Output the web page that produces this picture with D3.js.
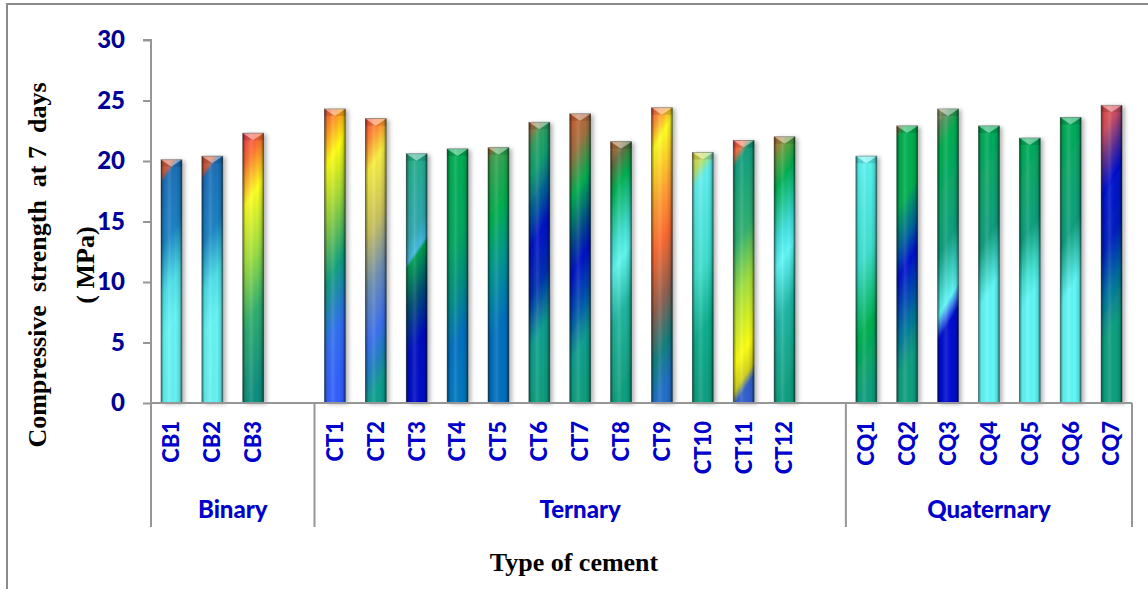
<!DOCTYPE html>
<html>
<head>
<meta charset="utf-8">
<script src="https://cdn.jsdelivr.net/npm/d3@7"></script>
<style>
  html, body { margin: 0; padding: 0; background: #fff; }
  svg { display: block; }
</style>
</head>
<body>
<svg id="chart" width="1148" height="589"></svg>
<script>
// ---------------- DATA ----------------
const groupNames = ["Binary", "Ternary", "Quaternary"];
const groupSizes = [3, 12, 7];
const categories = ["CB1", "CB2", "CB3",
  "CT1", "CT2", "CT3", "CT4", "CT5", "CT6", "CT7", "CT8", "CT9", "CT10", "CT11", "CT12",
  "CQ1", "CQ2", "CQ3", "CQ4", "CQ5", "CQ6", "CQ7"];
const strength7d = [20.1, 20.4, 22.3,
  24.3, 23.5, 20.6, 21.0, 21.1, 23.2, 23.9, 21.6, 24.4, 20.7, 21.7, 22.0,
  20.4, 22.9, 24.3, 22.9, 21.9, 23.6, 24.6];
const yTicks = [0, 5, 10, 15, 20, 25, 30];
const yTitleLine1 = "Compressive  strength  at 7  days";
const yTitleLine2 = "( MPa)";
const xTitle = "Type of cement";

// ---------------- STYLE (per-bar gradient fills, top -> bottom) ----------------
const barGradients = [
  [[0, "#e8643a"], [0.07, "#c85a40"], [0.1, "#1c6fb8"], [0.35, "#1a82c4"], [0.55, "#4de0e8"], [0.72, "#66f6f6"], [1, "#66f2f2"]],
  [[0, "#e8643a"], [0.07, "#c85a40"], [0.1, "#1c6fb8"], [0.35, "#1a82c4"], [0.55, "#4de0e8"], [0.72, "#66f6f6"], [1, "#66f2f2"]],
  [[0, "#f0405a"], [0.12, "#ff7030"], [0.28, "#ffff20"], [0.5, "#a0e040"], [0.72, "#30b070"], [1, "#109080"]],
  [[0, "#ff5040"], [0.1, "#ffa020"], [0.2, "#ffff10"], [0.4, "#90d040"], [0.6, "#10a080"], [0.8, "#3070f0"], [1, "#3060ff"]],
  [[0, "#ff5040"], [0.1, "#ff9030"], [0.2, "#f8f040"], [0.42, "#c8c060"], [0.6, "#7090b0"], [0.8, "#3a70f0"], [0.9, "#2080c0"], [1, "#10a090"]],
  [[0, "#20b080"], [0.35, "#30a8b0"], [0.44, "#40b8e0"], [0.46, "#00a050"], [0.62, "#005070"], [0.8, "#0010c0"], [1, "#0010c8"]],
  [[0, "#00b050"], [0.4, "#00a860"], [0.6, "#009080"], [0.8, "#0070c0"], [1, "#0078c0"]],
  [[0, "#e07030"], [0.06, "#40a050"], [0.3, "#00b050"], [0.5, "#009890"], [0.75, "#0070c0"], [1, "#0070c0"]],
  [[0, "#e06030"], [0.1, "#30a060"], [0.2, "#10a070"], [0.35, "#0050a0"], [0.45, "#0010c8"], [0.62, "#0030b0"], [0.8, "#10a090"], [1, "#10a080"]],
  [[0, "#d86030"], [0.15, "#a07040"], [0.3, "#00b050"], [0.47, "#004090"], [0.56, "#0010c8"], [0.7, "#0050b0"], [0.85, "#10a090"], [1, "#10a080"]],
  [[0, "#e07030"], [0.1, "#607040"], [0.2, "#00b050"], [0.4, "#40e0d0"], [0.5, "#60f8f0"], [0.7, "#20b8a0"], [1, "#10a080"]],
  [[0, "#ff6050"], [0.08, "#ffa030"], [0.15, "#ffff20"], [0.35, "#ffa030"], [0.5, "#ff6a30"], [0.7, "#906050"], [0.87, "#108080"], [1, "#2070c8"]],
  [[0, "#f0e040"], [0.08, "#c0e060"], [0.15, "#60f0f0"], [0.5, "#40e0d0"], [0.75, "#10b090"], [1, "#10a080"]],
  [[0, "#ff5050"], [0.06, "#ff7040"], [0.11, "#10a080"], [0.4, "#30b070"], [0.6, "#a0e040"], [0.85, "#ffff10"], [0.95, "#d0d020"], [1, "#3060d0"]],
  [[0, "#e07030"], [0.1, "#60a040"], [0.2, "#00b050"], [0.4, "#40e0e0"], [0.5, "#60f8f8"], [0.7, "#20b8a8"], [1, "#10a080"]],
  [[0, "#60f8f8"], [0.45, "#40e0d0"], [0.75, "#00b050"], [1, "#10a080"]],
  [[0, "#e06030"], [0.05, "#00b050"], [0.3, "#00b050"], [0.45, "#0060a0"], [0.55, "#0010d0"], [0.75, "#0070a0"], [0.9, "#10a080"], [1, "#10a080"]],
  [[0, "#d0c090"], [0.06, "#609060"], [0.15, "#00b050"], [0.5, "#10a080"], [0.7, "#60f8f8"], [0.74, "#4080f0"], [0.78, "#0010d0"], [1, "#0010d0"]],
  [[0, "#00b050"], [0.45, "#10a080"], [0.65, "#60f8f8"], [1, "#60f8f8"]],
  [[0, "#00b050"], [0.4, "#10a080"], [0.55, "#40e0d0"], [0.65, "#60f8f8"], [1, "#60f8f8"]],
  [[0, "#00b050"], [0.45, "#10a080"], [0.65, "#60f8f8"], [1, "#60f8f8"]],
  [[0, "#f05040"], [0.1, "#d05060"], [0.2, "#603090"], [0.3, "#0010d0"], [0.5, "#0020c0"], [0.65, "#0070a0"], [0.8, "#10a080"], [1, "#10a080"]]
];

// ---------------- CHART ----------------
const svg = d3.select("#chart");
const W = 1148, H = 589;
const plot = { left: 151, right: 1132, top: 40, bottom: 403 };
const tickColor = "#000096";
const catColor = "#0000cc";
const axisGray = "#969696";
const sansFont = "Lato, 'Open Sans', sans-serif";
const serifFont = "'Liberation Serif', 'Times New Roman', serif";

// outer frame (cut off at right / bottom as in the reference)
svg.append("rect").attr("x", 7).attr("y", 4).attr("width", W + 20).attr("height", H + 20)
  .attr("fill", "#fff").attr("stroke", "#8a8a8a").attr("stroke-width", 2);

// build slots: each group followed by an empty slot except the last
const slots = [];
let ci = 0;
groupSizes.forEach((n, gi) => {
  for (let k = 0; k < n; k++) { slots.push(categories[ci]); ci++; }
  if (gi < groupSizes.length - 1) slots.push("__gap" + gi);
});

const x = d3.scaleBand().domain(slots).range([plot.left, plot.right])
  .paddingInner(0.49).paddingOuter(0.245);
const y = d3.scaleLinear().domain([0, 30]).range([plot.bottom, plot.top]);

const defs = svg.append("defs");
const shadow = defs.append("filter").attr("id", "shadow")
  .attr("x", "-50%").attr("y", "-10%").attr("width", "200%").attr("height", "130%");
shadow.append("feDropShadow").attr("dx", 3).attr("dy", 1).attr("stdDeviation", 2)
  .attr("flood-color", "#000").attr("flood-opacity", 0.3);

barGradients.forEach((stops, i) => {
  const g = defs.append("linearGradient").attr("id", "g" + i)
    .attr("x1", 0).attr("y1", 0).attr("x2", 0.12).attr("y2", 1);
  stops.forEach(s => g.append("stop").attr("offset", s[0]).attr("stop-color", s[1]));
});
const edge = defs.append("linearGradient").attr("id", "edge").attr("x1", 0).attr("x2", 1).attr("y1", 0).attr("y2", 0);
[[0, "#000", 0.5], [0.14, "#000", 0.05], [0.4, "#fff", 0.12], [0.7, "#000", 0.0], [0.88, "#000", 0.12], [1, "#000", 0.55]]
  .forEach(s => edge.append("stop").attr("offset", s[0]).attr("stop-color", s[1]).attr("stop-opacity", s[2]));

// y axis
const yAxisG = svg.append("g").attr("transform", `translate(${plot.left},0)`)
  .call(d3.axisLeft(y).tickValues(yTicks).tickSize(8).tickPadding(18).tickFormat(d3.format("d")));
yAxisG.select(".domain").attr("stroke", axisGray).attr("stroke-width", 2)
  .attr("d", `M-8,${plot.top}H0V${plot.bottom}`);
yAxisG.selectAll(".tick line").attr("stroke", axisGray).attr("stroke-width", 2);
yAxisG.selectAll(".tick text").attr("fill", tickColor)
  .style("font-family", sansFont).style("font-weight", "900").style("font-size", "24px");

// bars
const data = categories.map((c, i) => ({ c, v: strength7d[i], i }));
const bars = svg.append("g").selectAll("g.bar").data(data).join("g").attr("class", "bar");
bars.append("rect")
  .attr("x", d => x(d.c)).attr("y", d => y(d.v))
  .attr("width", x.bandwidth()).attr("height", d => y(0) - y(d.v))
  .attr("fill", d => `url(#g${d.i})`).attr("filter", "url(#shadow)");
bars.append("rect")
  .attr("x", d => x(d.c)).attr("y", d => y(d.v))
  .attr("width", x.bandwidth()).attr("height", d => y(0) - y(d.v))
  .attr("fill", "url(#edge)")
  .attr("stroke", "#1b2a28").attr("stroke-opacity", 0.55).attr("stroke-width", 0.8);
// top bevel
const bev = 7;
bars.append("path")
  .attr("d", d => {
    const x0 = x(d.c), x1 = x0 + x.bandwidth(), xc = (x0 + x1) / 2, t = y(d.v);
    return `M${x0},${t}L${x1},${t}L${xc},${t + bev}Z`;
  })
  .attr("fill", "#ffffff").attr("fill-opacity", 0.4);
bars.append("path")
  .attr("d", d => {
    const x0 = x(d.c), x1 = x0 + x.bandwidth(), xc = (x0 + x1) / 2, t = y(d.v);
    return `M${x0},${t}L${xc},${t + bev}L${x0},${t + bev}Z M${x1},${t}L${xc},${t + bev}L${x1},${t + bev}Z`;
  })
  .attr("fill", "#000").attr("fill-opacity", 0.12);

// x axis line
svg.append("line").attr("x1", plot.left).attr("x2", plot.right)
  .attr("y1", plot.bottom).attr("y2", plot.bottom)
  .attr("stroke", axisGray).attr("stroke-width", 2);

// category labels
svg.append("g").selectAll("text").data(categories).join("text")
  .attr("transform", d => `translate(${x(d) + x.bandwidth() / 2},421) rotate(-90)`)
  .attr("text-anchor", "end").attr("dy", "0.36em")
  .attr("fill", catColor)
  .style("font-family", sansFont).style("font-weight", "900").style("font-size", "22px")
  .text(d => d);

// group separators and labels
const step = x.step();
const bounds = [plot.left];
let acc = 0;
groupSizes.forEach((n, gi) => { acc += n + (gi < groupSizes.length - 1 ? 1 : 0); bounds.push(plot.left + acc * step); });
svg.append("g").selectAll("line").data(bounds).join("line")
  .attr("x1", d => d).attr("x2", d => d).attr("y1", plot.bottom).attr("y2", 527)
  .attr("stroke", axisGray).attr("stroke-width", 2);
svg.append("g").selectAll("text").data(groupNames).join("text")
  .attr("x", (d, i) => (bounds[i] + bounds[i + 1]) / 2).attr("y", 518)
  .attr("text-anchor", "middle").attr("fill", catColor)
  .style("font-family", sansFont).style("font-weight", "900").style("font-size", "24px")
  .text(d => d);

// axis titles
svg.append("text").attr("x", 574).attr("y", 571).attr("text-anchor", "middle")
  .style("font-family", serifFont).style("font-weight", "bold").style("font-size", "26px")
  .attr("fill", "#000").text(xTitle);
const yt = svg.append("text").attr("transform", "translate(0,265) rotate(-90)")
  .attr("text-anchor", "middle")
  .style("font-family", serifFont).style("font-weight", "bold").style("font-size", "26px")
  .style("white-space", "pre").attr("fill", "#000");
yt.append("tspan").attr("x", 0).attr("y", 46).text(yTitleLine1);
yt.append("tspan").attr("x", 0).attr("y", 94).text(yTitleLine2);
</script>
</body>
</html>
